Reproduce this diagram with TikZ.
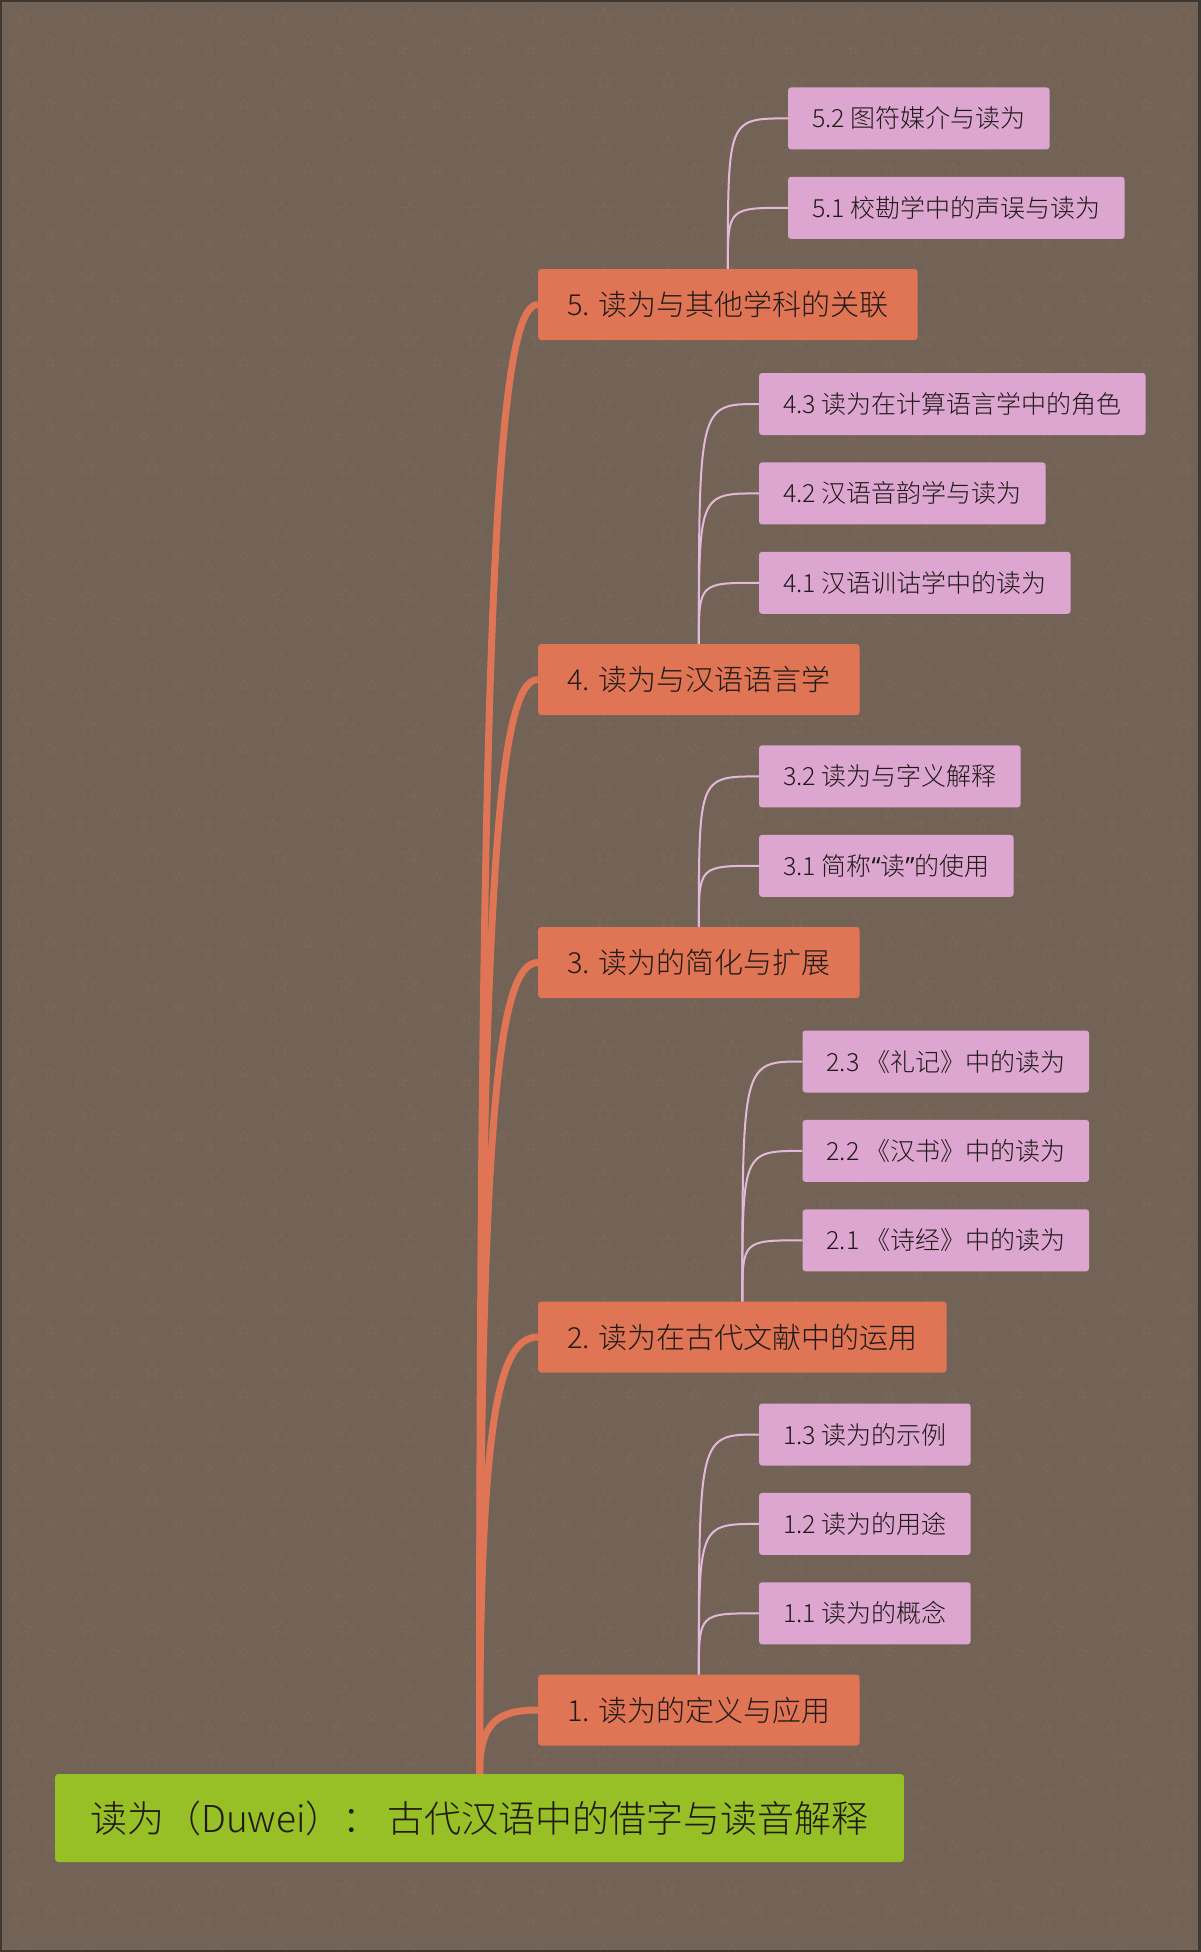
\documentclass[tikz,border=0pt]{standalone}
\usepackage{fontspec}
\IfFontExistsTF{Noto Sans CJK SC Light}{\setmainfont{Noto Sans CJK SC Light}}{\setmainfont{Noto Sans CJK SC}}
\newfontfamily\quotefont{Noto Sans}
\usetikzlibrary{positioning,calc}
\definecolor{duweibg}{HTML}{736356}
\definecolor{duweistar}{HTML}{7B6757}
\definecolor{duweiframe}{HTML}{3E3732}
\definecolor{duweigreen}{HTML}{97BF26}
\definecolor{duweiorange}{HTML}{E07556}
\definecolor{duweipink}{HTML}{DCA6D1}
\definecolor{duweiline}{HTML}{E4B8DA}
\definecolor{duweitext}{HTML}{201A17}

\tikzset{
  rootbox/.style={fill=duweigreen, rounded corners=3pt, minimum height=88pt, inner xsep=35pt, anchor=west, text=duweitext, font=\fontsize{37pt}{44pt}\selectfont},
  mainbox/.style={fill=duweiorange, rounded corners=3pt, minimum height=71pt, inner xsep=29pt, anchor=west, text=duweitext, font=\fontsize{29pt}{34pt}\selectfont},
  subbox/.style={fill=duweipink, rounded corners=3pt, minimum height=62pt, inner xsep=24pt, anchor=west, text=duweitext, font=\fontsize{25pt}{30pt}\selectfont},
  trunk/.style={draw=duweiorange, line width=7pt},
  twig/.style={draw=duweiline, line width=2pt},
  starline/.style={draw=duweistar, line width=1pt},
  bgstar/.pic={\draw[starline] (0,-1) -- (-0.235,-0.324) -- (-0.951,-0.309) -- (-0.380,0.124) -- (-0.588,0.809) -- (0,0.4) -- (0.588,0.809) -- (0.380,0.124) -- (0.951,-0.309) -- (0.235,-0.324) -- cycle;}
}

\begin{document}
\begin{tikzpicture}[x=1pt, y=-1pt]
% background with star texture
\useasboundingbox (0,0) rectangle (1200,1952);
\fill[duweibg] (0,0) rectangle (1200,1952);
\foreach \i in {0,...,18} \foreach \j in {0,...,30} {
  \pic[scale=9] at ({23+64.5*\i},{17+64.5*\j}) {bgstar};
  \pic[scale=6] at ({50+64.5*\i},{40+64.5*\j}) {bgstar};
  \pic[scale=5] at ({15+64.5*\i},{50+64.5*\j}) {bgstar};
}
\draw[duweiframe, line width=4pt] (0,0) rectangle (1200,1952);

% root and main branches
\node[rootbox] (root) at (55,1818) {读为（Duwei）： 古代汉语中的借字与读音解释};
\node[mainbox] (b1) at (538,1710) {1. 读为的定义与应用};
\node[mainbox] (b2) at (538,1337) {2. 读为在古代文献中的运用};
\node[mainbox] (b3) at (538,962.5) {3. 读为的简化与扩展};
\node[mainbox] (b4) at (538,679.5) {4. 读为与汉语语言学};
\node[mainbox] (b5) at (538,304.5) {5. 读为与其他学科的关联};

% sub branches
\node[subbox] (s11) at ($(b1.north)+(60,-61)$) {1.1 读为的概念};
\node[subbox, above=27pt of s11.north west, anchor=south west] (s12) {1.2 读为的用途};
\node[subbox, above=27pt of s12.north west, anchor=south west] (s13) {1.3 读为的示例};

\node[subbox] (s21) at ($(b2.north)+(60,-61)$) {2.1 《诗经》中的读为};
\node[subbox, above=27pt of s21.north west, anchor=south west] (s22) {2.2 《汉书》中的读为};
\node[subbox, above=27pt of s22.north west, anchor=south west] (s23) {2.3 《礼记》中的读为};

\node[subbox] (s31) at ($(b3.north)+(60,-61)$) {3.1 简称{\quotefont“}读{\quotefont”}的使用};
\node[subbox, above=27pt of s31.north west, anchor=south west] (s32) {3.2 读为与字义解释};

\node[subbox] (s41) at ($(b4.north)+(60,-61)$) {4.1 汉语训诂学中的读为};
\node[subbox, above=27pt of s41.north west, anchor=south west] (s42) {4.2 汉语音韵学与读为};
\node[subbox, above=27pt of s42.north west, anchor=south west] (s43) {4.3 读为在计算语言学中的角色};

\node[subbox] (s51) at ($(b5.north)+(60,-61)$) {5.1 校勘学中的声误与读为};
\node[subbox, above=27pt of s51.north west, anchor=south west] (s52) {5.2 图符媒介与读为};

% connectors
\foreach \b in {b1,b2,b3,b4,b5}
  \draw[trunk] (root.north) .. controls ($(root.north |- \b.west)!0.2!(root.north)$) and ($(root.north |- \b.west)!0.3!(\b.west)$) .. (\b.west);
\foreach \s/\b in {s11/b1,s12/b1,s13/b1,s21/b2,s22/b2,s23/b2,s31/b3,s32/b3,s41/b4,s42/b4,s43/b4,s51/b5,s52/b5}
  \draw[twig] (\b.north) .. controls (\b.north |- \s.west) .. (\s.west);
\end{tikzpicture}
\end{document}
